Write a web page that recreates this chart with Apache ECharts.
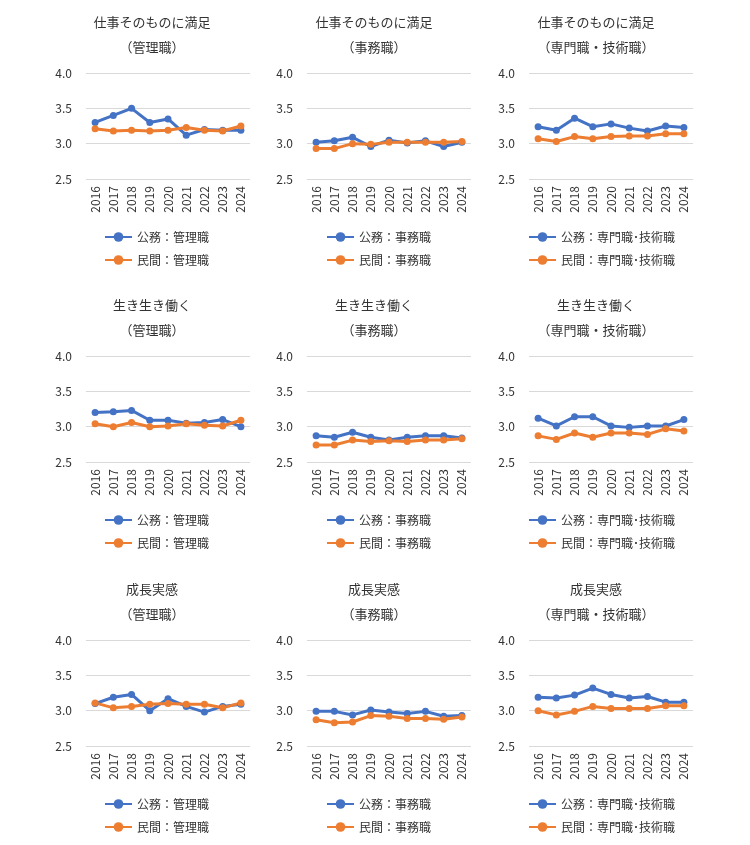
<!DOCTYPE html>
<html>
<head>
<meta charset="utf-8">
<script src="https://cdn.jsdelivr.net/npm/echarts@6/dist/echarts.min.js"></script>
<style>
html,body{margin:0;padding:0;background:#fff;}
#chart{width:750px;height:845px;}
</style>
</head>
<body>
<div id="chart"></div>
<script>
const years = ['2016','2017','2018','2019','2020','2021','2022','2023','2024'];
const yTickMin = 2.5, yTickMax = 4.0, yTickStep = 0.5;

const rowTitles = ['仕事そのものに満足', '生き生き働く', '成長実感'];
const colTitles = ['（管理職）', '（事務職）', '（専門職・技術職）'];
const koumuNames = ['公務：管理職', '公務：事務職', '公務：専門職･技術職'];
const minkanNames = ['民間：管理職', '民間：事務職', '民間：専門職･技術職'];

const koumu_manzoku_kanri  = [3.30,3.40,3.50,3.30,3.35,3.12,3.20,3.19,3.19];
const minkan_manzoku_kanri = [3.21,3.18,3.19,3.18,3.19,3.23,3.19,3.18,3.25];
const koumu_manzoku_jimu   = [3.02,3.04,3.09,2.96,3.05,3.01,3.04,2.96,3.02];
const minkan_manzoku_jimu  = [2.93,2.93,3.00,2.99,3.02,3.02,3.02,3.02,3.03];
const koumu_manzoku_senmon = [3.24,3.19,3.36,3.24,3.28,3.22,3.18,3.25,3.23];
const minkan_manzoku_senmon= [3.07,3.03,3.10,3.07,3.10,3.11,3.11,3.14,3.14];

const koumu_ikiiki_kanri   = [3.20,3.21,3.23,3.09,3.09,3.05,3.06,3.10,3.00];
const minkan_ikiiki_kanri  = [3.04,3.00,3.06,3.00,3.01,3.04,3.02,3.01,3.09];
const koumu_ikiiki_jimu    = [2.87,2.85,2.92,2.85,2.81,2.85,2.87,2.87,2.84];
const minkan_ikiiki_jimu   = [2.74,2.74,2.81,2.79,2.80,2.79,2.81,2.81,2.83];
const koumu_ikiiki_senmon  = [3.12,3.01,3.14,3.14,3.01,2.99,3.01,3.01,3.10];
const minkan_ikiiki_senmon = [2.87,2.82,2.91,2.85,2.91,2.91,2.89,2.97,2.94];

const koumu_seichou_kanri  = [3.10,3.19,3.23,3.00,3.17,3.06,2.98,3.06,3.09];
const minkan_seichou_kanri = [3.11,3.04,3.06,3.09,3.10,3.09,3.09,3.04,3.11];
const koumu_seichou_jimu   = [2.99,2.99,2.94,3.01,2.98,2.96,2.99,2.92,2.93];
const minkan_seichou_jimu  = [2.87,2.83,2.84,2.93,2.92,2.89,2.89,2.88,2.91];
const koumu_seichou_senmon = [3.19,3.18,3.22,3.32,3.23,3.18,3.20,3.12,3.12];
const minkan_seichou_senmon= [3.00,2.94,2.99,3.06,3.03,3.03,3.03,3.07,3.07];

const koumuData = [
  [koumu_manzoku_kanri, koumu_manzoku_jimu, koumu_manzoku_senmon],
  [koumu_ikiiki_kanri, koumu_ikiiki_jimu, koumu_ikiiki_senmon],
  [koumu_seichou_kanri, koumu_seichou_jimu, koumu_seichou_senmon]
];
const minkanData = [
  [minkan_manzoku_kanri, minkan_manzoku_jimu, minkan_manzoku_senmon],
  [minkan_ikiiki_kanri, minkan_ikiiki_jimu, minkan_ikiiki_senmon],
  [minkan_seichou_kanri, minkan_seichou_jimu, minkan_seichou_senmon]
];

const FONT = '"Noto Sans CJK JP", "Noto Sans", sans-serif';
const TEXT = '#333333';
const BLUE = '#4472C4', ORANGE = '#ED7D31';

const gridLeft = [86, 307, 529];
const gridWidth = 164;
const gridTop = [73, 356, 640];
const gridHeight = 106;
const titleX = [152, 374, 596];
const legendLeft = [104, 326, 528];

const option = {
  animation: false,
  backgroundColor: '#fff',
  title: [], grid: [], xAxis: [], yAxis: [], series: [], legend: []
};

let idx = 0;
for (let r = 0; r < 3; r++) {
  for (let c = 0; c < 3; c++) {
    option.title.push({
      text: rowTitles[r] + '\n' + colTitles[c],
      left: titleX[c], top: gridTop[r] - 63,
      padding: 0, textAlign: 'center',
      textStyle: {fontFamily: FONT, fontSize: 13, fontWeight: 'normal', color: TEXT, lineHeight: 25}
    });
    option.grid.push({left: gridLeft[c], top: gridTop[r], width: gridWidth, height: gridHeight, containLabel: false});
    option.xAxis.push({
      type: 'category', gridIndex: idx, data: years, boundaryGap: true,
      axisLine: {show: false}, axisTick: {show: false},
      axisLabel: {rotate: 90, margin: 7, fontFamily: FONT, fontSize: 12, color: TEXT, interval: 0}
    });
    option.yAxis.push({
      type: 'value', gridIndex: idx, min: yTickMin, max: yTickMax, interval: yTickStep,
      axisLine: {show: false}, axisTick: {show: false},
      splitLine: {show: true, lineStyle: {color: '#d9d9d9', width: 1}},
      axisLabel: {margin: 14, fontFamily: FONT, fontSize: 12, color: TEXT, formatter: v => v.toFixed(1)}
    });
    option.series.push({
      name: koumuNames[c], type: 'line', xAxisIndex: idx, yAxisIndex: idx,
      data: koumuData[r][c], symbol: 'circle', symbolSize: 7,
      lineStyle: {color: BLUE, width: 3}, itemStyle: {color: BLUE}
    });
    option.series.push({
      name: minkanNames[c], type: 'line', xAxisIndex: idx, yAxisIndex: idx,
      data: minkanData[r][c], symbol: 'circle', symbolSize: 7,
      lineStyle: {color: ORANGE, width: 3}, itemStyle: {color: ORANGE}
    });
    option.legend.push({
      data: [koumuNames[c], minkanNames[c]],
      orient: 'vertical', left: legendLeft[c], top: gridTop[r] + 158,
      padding: 0, itemWidth: 27, itemHeight: 12, itemGap: 11,
      selectedMode: false,
      textStyle: {fontFamily: FONT, fontSize: 12, color: TEXT}
    });
    idx++;
  }
}

const chart = echarts.init(document.getElementById('chart'), null, {renderer: 'canvas'});
chart.setOption(option);
</script>
</body>
</html>
